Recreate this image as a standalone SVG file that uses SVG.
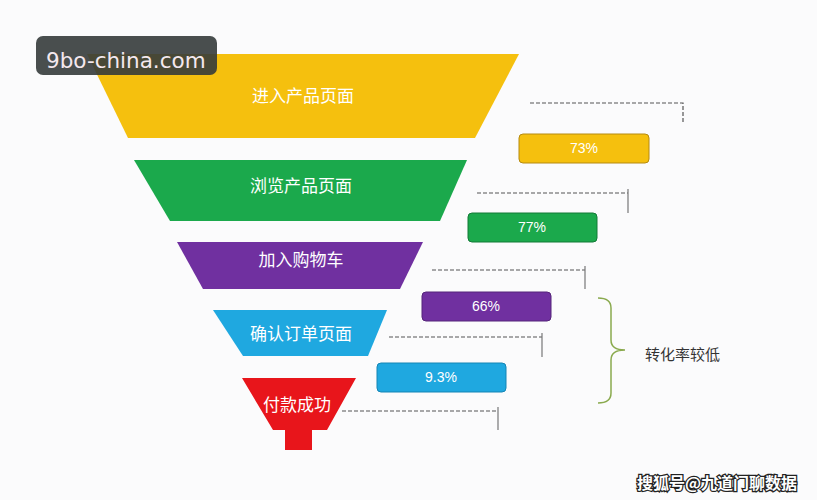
<svg xmlns="http://www.w3.org/2000/svg" width="817" height="500" viewBox="0 0 817 500">
<style>
.lbl{font-family:"Noto Sans CJK SC","Liberation Sans",sans-serif;font-size:17px;fill:#ffffff;text-anchor:middle}
.pct{font-family:"Liberation Sans","Noto Sans CJK SC",sans-serif;font-size:14px;fill:#ffffff;text-anchor:middle}
.dash{stroke:#555;stroke-width:1.2;stroke-dasharray:4 2;fill:none}
.tick{stroke:#777;stroke-width:1.2;fill:none}
</style>
<rect width="817" height="500" fill="#fbfbfc"/>
<g id="stage1">
<polygon points="87,54 519,54 475,138 128,138" fill="#f5c00e"/>
<text class="lbl" x="303" y="102">进入产品页面</text>
</g>
<g id="stage2">
<polygon points="134,160 467,160 440,221 170,221" fill="#1ba94c"/>
<text class="lbl" x="301" y="192">浏览产品页面</text>
</g>
<g id="stage3">
<polygon points="177,242 423,242 400,289 203,289" fill="#7030a0"/>
<text class="lbl" x="301" y="266">加入购物车</text>
</g>
<g id="stage4">
<polygon points="213,310 387,310 368,356 243,356" fill="#1fa8e0"/>
<text class="lbl" x="301" y="340">确认订单页面</text>
</g>
<g id="stage5">
<polygon points="242,378 356,378 327,430 312,430 312,450 285,450 285,430 273,430" fill="#e8151b"/>
<text class="lbl" x="297" y="411">付款成功</text>
</g>
<g id="connectors">
<path class="dash" d="M530,103 H683 V123"/>
<path class="dash" d="M477,193 H628"/><path class="tick" d="M628,189 V213"/>
<path class="dash" d="M432,270 H585"/><path class="tick" d="M585,266 V289"/>
<path class="dash" d="M389,337 H542"/><path class="tick" d="M542,333 V357"/>
<path class="dash" d="M342,411 H498"/><path class="tick" d="M498,407 V430"/>
</g>
<g id="rate1">
<rect x="519" y="134" width="130" height="29" rx="4" fill="#f5c00e" stroke="#b58a10" stroke-width="1"/>
<text class="pct" x="584" y="153">73%</text>
</g>
<g id="rate2">
<rect x="468" y="213" width="129" height="29" rx="4" fill="#1ba94c" stroke="#137a37" stroke-width="1"/>
<text class="pct" x="532" y="232">77%</text>
</g>
<g id="rate3">
<rect x="422" y="292" width="129" height="29" rx="4" fill="#7030a0" stroke="#55247a" stroke-width="1"/>
<text class="pct" x="486" y="311">66%</text>
</g>
<g id="rate4">
<rect x="377" y="363" width="129" height="29" rx="4" fill="#1fa8e0" stroke="#1585b5" stroke-width="1"/>
<text class="pct" x="441" y="382">9.3%</text>
</g>
<g id="brace">
<path d="M598,298 Q611,298 611,308 V340 Q611,350 625,350 Q611,350 611,360 V393 Q611,403 598,403" fill="none" stroke="#8aaa4e" stroke-width="1.5"/>
<text x="645" y="360" font-family="Noto Sans CJK SC,Liberation Sans,sans-serif" font-size="15" fill="#333">转化率较低</text>
</g>
<g id="watermark">
<rect x="36" y="36" width="181" height="39" rx="7" fill="#353b3b" fill-opacity="0.9"/>
<text x="46" y="68" font-family="DejaVu Sans,sans-serif" font-size="21.5" fill="#f4e8ee">9bo-china.com</text>
<text x="637" y="489" font-family="Noto Sans CJK SC,sans-serif" font-size="16" font-weight="bold" fill="#ffffff" stroke="#222" stroke-width="2.5" paint-order="stroke">搜狐号@九道门聊数据</text>
</g>
</svg>
